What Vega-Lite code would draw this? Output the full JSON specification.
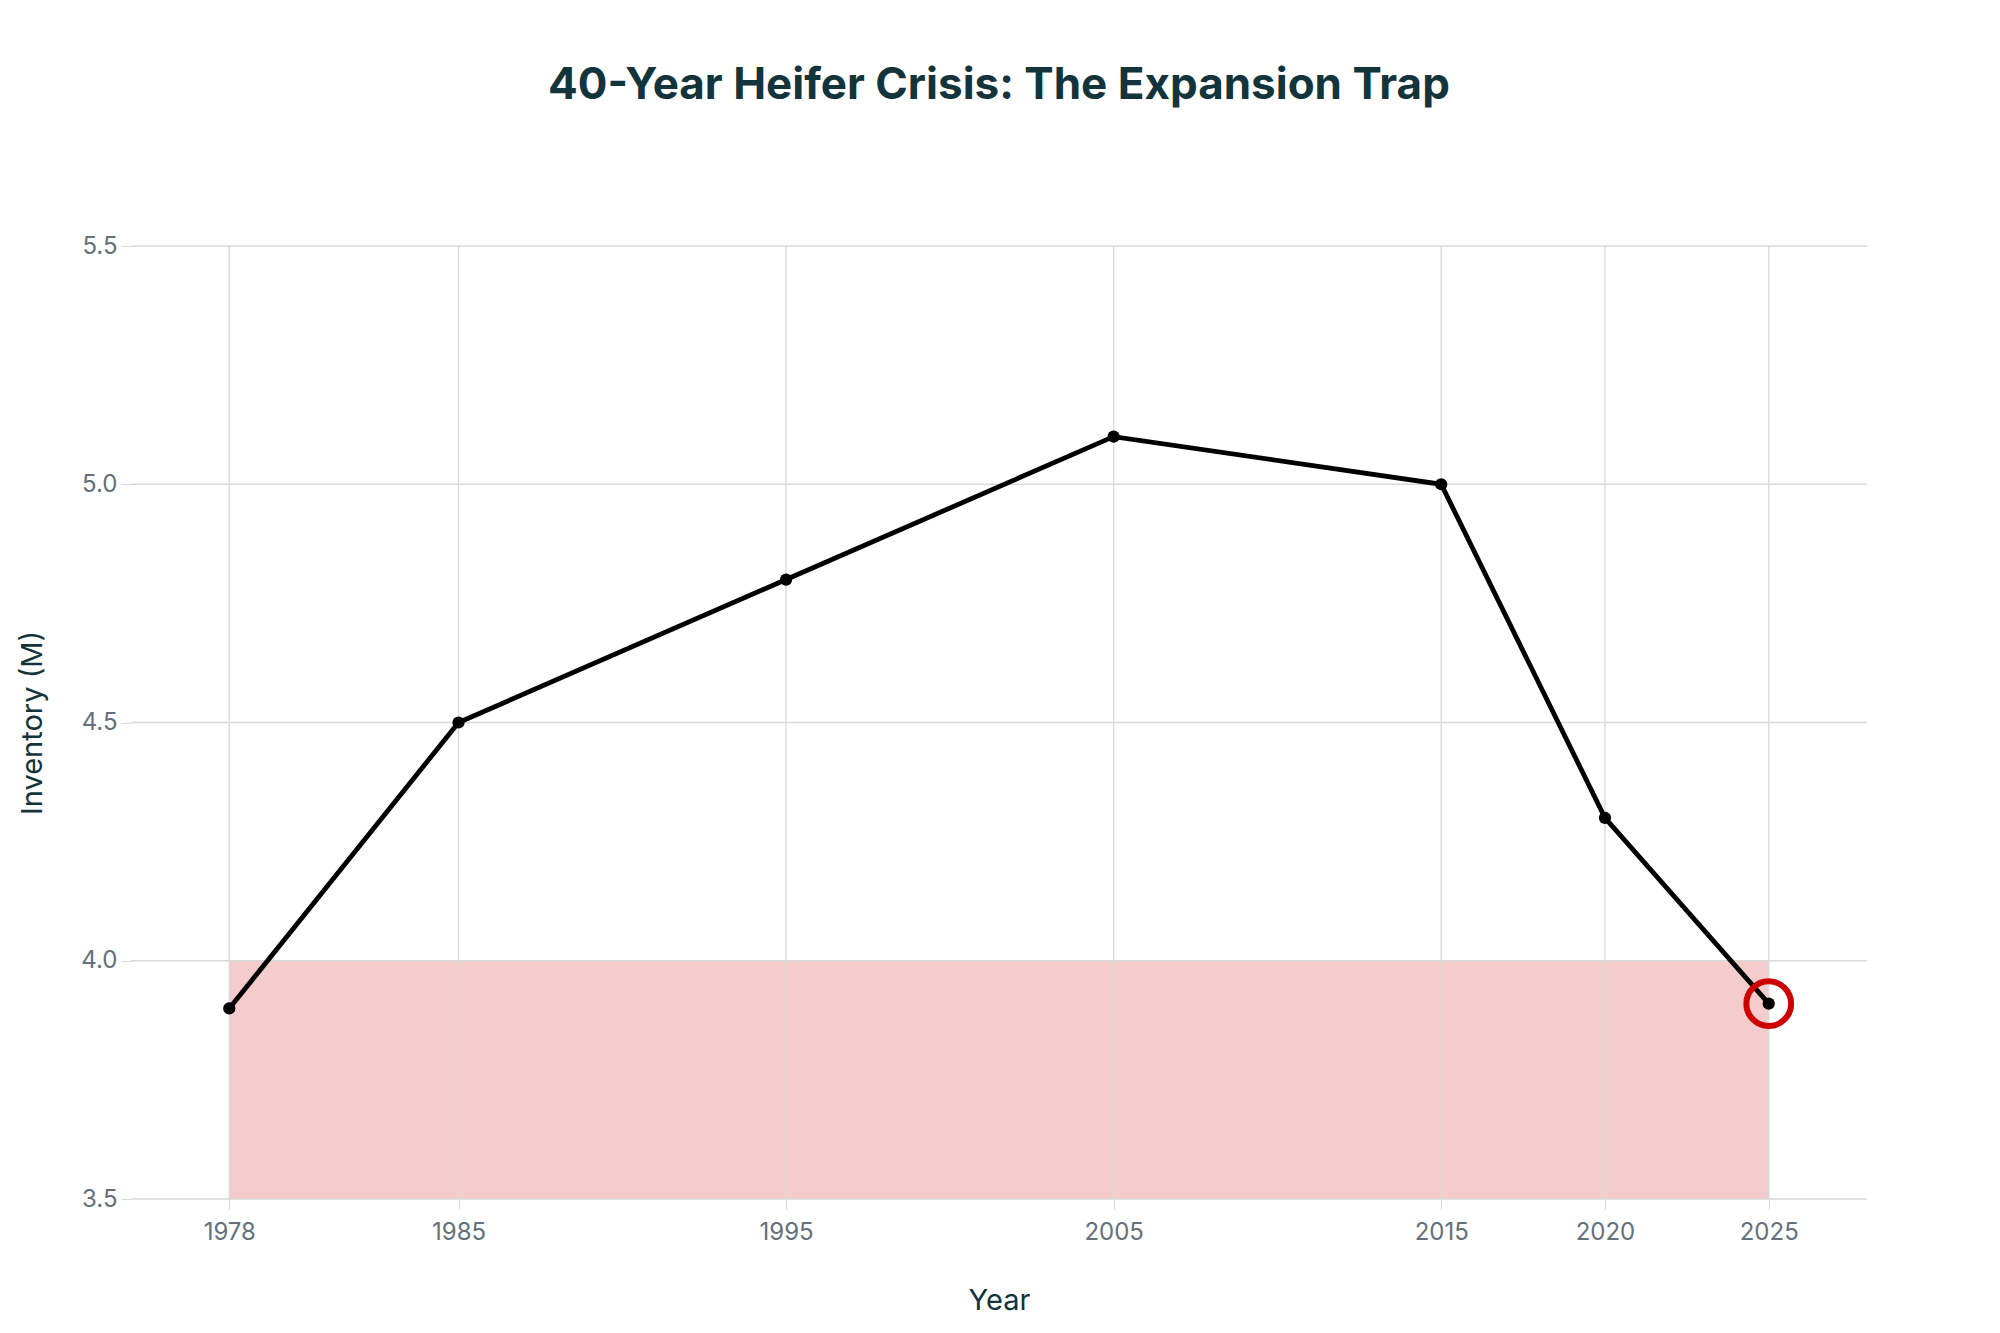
{
  "$schema": "https://vega.github.io/schema/vega-lite/v6.json",
  "autosize": {"type": "none"},
  "width": 1736,
  "height": 953,
  "padding": {"left": 131, "top": 246, "right": 133, "bottom": 134},
  "background": "white",
  "title": {
    "text": "40-Year Heifer Crisis: The Expansion Trap",
    "font": "Inter",
    "fontSize": 44,
    "fontWeight": "bold",
    "color": "#13343b",
    "anchor": "middle",
    "offset": 126
  },
  "datasets": {
    "series": [
      {"year": 1978, "inventory": 3.9},
      {"year": 1985, "inventory": 4.5},
      {"year": 1995, "inventory": 4.8},
      {"year": 2005, "inventory": 5.1},
      {"year": 2015, "inventory": 5.0},
      {"year": 2020, "inventory": 4.3},
      {"year": 2025, "inventory": 3.91}
    ],
    "zone": [
      {"start": 1978, "end": 2025, "low": 3.5, "high": 4.0}
    ],
    "ygrid": [
      {"level": 3.5}, {"level": 4.0}, {"level": 4.5}, {"level": 5.0}, {"level": 5.5}
    ],
    "highlight": [
      {"year": 2025, "inventory": 3.91}
    ]
  },
  "config": {
    "view": {"stroke": null},
    "axis": {
      "labelFont": "Inter",
      "labelFontSize": 24,
      "labelColor": "#64707a",
      "titleFont": "Inter",
      "titleFontSize": 29,
      "titleFontWeight": "normal",
      "titleColor": "#13343b",
      "grid": false,
      "tickColor": "#d9d9d9",
      "tickSize": 10,
      "domain": false
    }
  },
  "layer": [
    {
      "data": {"name": "zone"},
      "mark": {"type": "rect", "fill": "#cc0000", "fillOpacity": 0.2},
      "encoding": {
        "x": {
          "field": "start", "type": "quantitative",
          "scale": {"domain": [1975, 2028], "nice": false, "zero": false},
          "axis": {
            "title": "Year",
            "values": [1978, 1985, 1995, 2005, 2015, 2020, 2025],
            "format": "d",
            "labelPadding": 11,
            "titlePadding": 42
          }
        },
        "x2": {"field": "end"},
        "y": {
          "field": "low", "type": "quantitative",
          "scale": {"domain": [3.5, 5.5], "nice": false, "zero": false},
          "axis": {
            "title": "Inventory (M)",
            "values": [3.5, 4.0, 4.5, 5.0, 5.5],
            "format": ".1f",
            "labelPadding": 4,
            "titlePadding": 33
          }
        },
        "y2": {"field": "high"}
      }
    },
    {
      "data": {"name": "series"},
      "mark": {"type": "rule", "color": "#d9d9d9", "strokeWidth": 1.3},
      "encoding": {
        "x": {"field": "year", "type": "quantitative"}
      }
    },
    {
      "data": {"name": "ygrid"},
      "mark": {"type": "rule", "color": "#d9d9d9", "strokeWidth": 1.3},
      "encoding": {
        "y": {"field": "level", "type": "quantitative"}
      }
    },
    {
      "data": {"name": "series"},
      "mark": {"type": "line", "color": "#000000", "strokeWidth": 4.8, "point": {"filled": true, "color": "#000000", "size": 150, "opacity": 1}},
      "encoding": {
        "x": {"field": "year", "type": "quantitative"},
        "y": {"field": "inventory", "type": "quantitative"}
      }
    },
    {
      "data": {"name": "highlight"},
      "mark": {"type": "point", "shape": "circle", "filled": false, "stroke": "#cc0000", "strokeWidth": 6, "size": 2000, "opacity": 1},
      "encoding": {
        "x": {"field": "year", "type": "quantitative"},
        "y": {"field": "inventory", "type": "quantitative"}
      }
    }
  ]
}
